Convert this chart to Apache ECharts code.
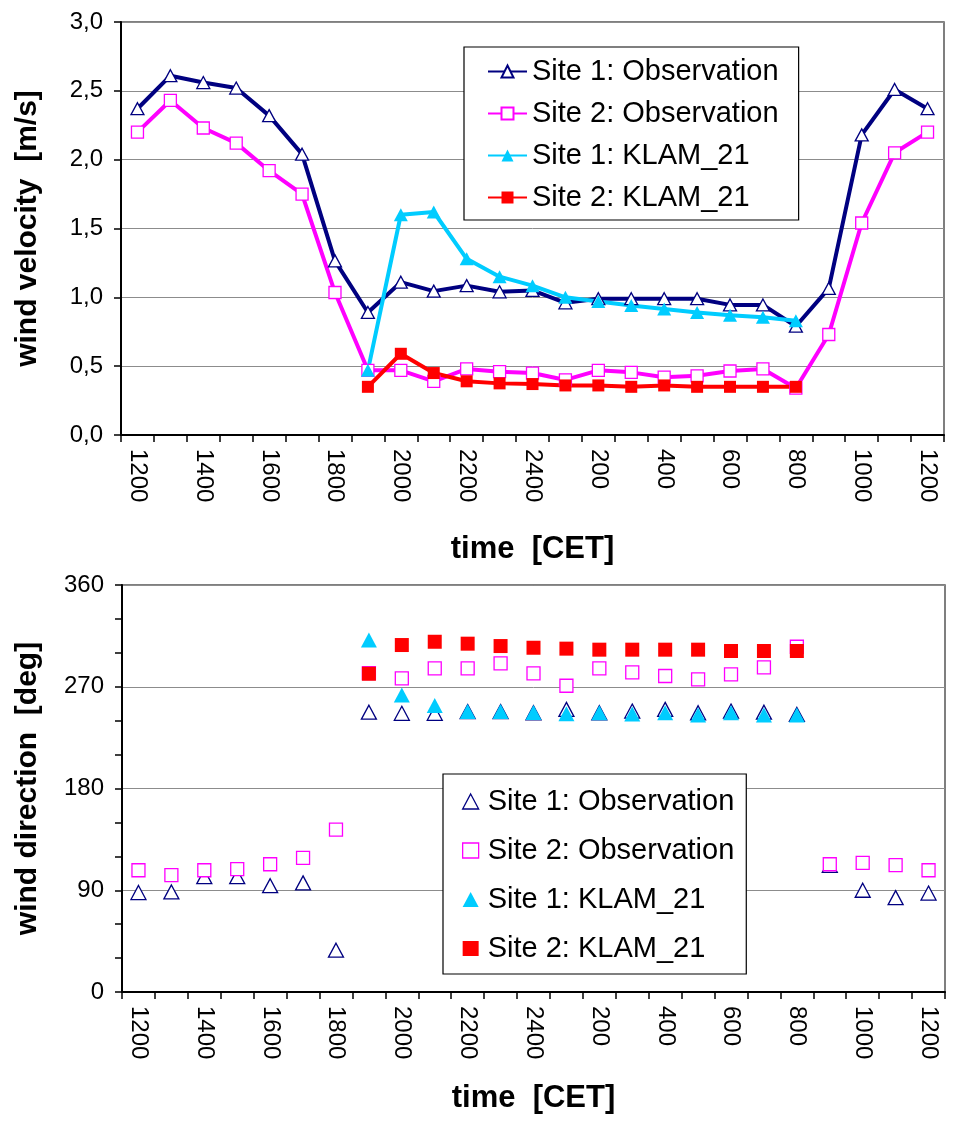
<!DOCTYPE html>
<html>
<head>
<meta charset="utf-8">
<script src="https://cdn.jsdelivr.net/npm/echarts@6/dist/echarts.min.js"></script>
<style>
html,body{margin:0;padding:0;background:#fff;}
#chart{width:955px;height:1122px;}
</style>
</head>
<body>
<div id="chart"></div>
<script>
// ---- data ----
const times = ['1200','1300','1400','1500','1600','1700','1800','1900','2000','2100','2200','2300','2400',
               '100','200','300','400','500','600','700','800','900','1000','1100','1200'];
const seriesNames = ['Site 1: Observation','Site 2: Observation','Site 1: KLAM_21','Site 2: KLAM_21'];

// wind velocity [m/s]
const velSite1Obs = [2.37,2.61,2.56,2.52,2.32,2.04,1.265,0.89,1.11,1.045,1.085,1.04,1.05,0.96,0.99,0.99,0.99,0.99,0.945,0.945,0.79,1.065,2.18,2.51,2.37];
const velSite2Obs = [2.20,2.43,2.23,2.12,1.92,1.75,1.035,0.47,0.47,0.39,0.48,0.46,0.45,0.40,0.47,0.455,0.42,0.43,0.465,0.48,0.34,0.73,1.54,2.05,2.20];
const velSite1Klam = [null,null,null,null,null,null,null,0.47,1.60,1.62,1.28,1.15,1.085,1.00,0.97,0.94,0.915,0.89,0.87,0.855,0.83,null,null,null,null];
const velSite2Klam = [null,null,null,null,null,null,null,0.35,0.59,0.45,0.39,0.375,0.37,0.36,0.36,0.35,0.36,0.35,0.35,0.35,0.35,null,null,null,null];

// wind direction [deg]
const dirSite1Obs = [88,88.5,102,102,94,96.5,37,247.5,246.5,246.5,248,248,247,250,247,248.5,250,247,248.5,247.5,245.5,112,90,83.5,87.5];
const dirSite2Obs = [107.7,103.3,107.7,108.6,113,118.6,143.7,282,277.4,286.2,286.2,290.7,281.8,270.9,286.2,282.7,279.5,276.5,280.9,287.1,305.4,113,114.2,112.2,107.7];
const dirSite1Klam = [null,null,null,null,null,null,null,311.3,262.6,253.5,248.2,248.2,247.3,246.1,247,246,247,245,247,245,245,null,null,null,null];
const dirSite2Klam = [null,null,null,null,null,null,null,281.5,306.9,309.8,308.1,306,304.5,303.7,302.8,302.8,302.8,302.8,301.6,301.6,301.6,null,null,null,null];

const velTicks = {min:0, max:3, interval:0.5};
const dirTicks = {min:0, max:360, interval:90};

// ---- styles ----
const FONT = '"Liberation Sans", Arial, sans-serif';
const NAVY = '#000080', MAG = '#ff00ff', CYAN = '#00ccff', RED = '#ff0000';

const chart = echarts.init(document.getElementById('chart'), null, {renderer:'canvas'});

function xAxisCfg(gridIndex, gap){
  return {
    type:'category', gridIndex, data: times, boundaryGap:true,
    axisLine:{show:true, onZero:false, lineStyle:{color:'#000', width:2}},
    axisTick:{show:true, interval:0, length:7, inside:false, lineStyle:{color:'#000', width:1.5}},
    axisLabel:{interval:1, rotate:-90, margin:14, color:'#000', fontFamily:FONT, fontSize:24},
    splitLine:{show:false},
    name:'time  [CET]', nameLocation:'middle', nameGap:gap,
    nameTextStyle:{fontFamily:FONT, fontSize:31, fontWeight:'bold', color:'#000'}
  };
}

const option = {
  animation:false,
  backgroundColor:'#fff',
  textStyle:{fontFamily:FONT},
  grid:[
    {left:121, top:22, width:823, height:413, show:true, borderColor:'#555', borderWidth:1.5, backgroundColor:'#fff'},
    {left:122, top:585, width:823, height:407, show:true, borderColor:'#555', borderWidth:1.5, backgroundColor:'#fff'}
  ],
  legend:[
    {
      orient:'vertical', left:464, top:47, padding:[10,20,8,23], itemGap:13,
      itemWidth:39, itemHeight:15,
      backgroundColor:'#fff', borderColor:'#000', borderWidth:1.2,
      textStyle:{fontFamily:FONT, fontSize:29, color:'#000'},
      selectedMode:false,
      data: seriesNames
    },
    {
      orient:'vertical', left:443, top:774, padding:[13,12,11,19], itemGap:20,
      itemWidth:16, itemHeight:15,
      backgroundColor:'#fff', borderColor:'#000', borderWidth:1.2,
      textStyle:{fontFamily:FONT, fontSize:29, color:'#000', padding:[0,0,0,4]},
      selectedMode:false,
      data:[
        {name:seriesNames[0], icon:'triangle', itemStyle:{color:'#fff', borderColor:NAVY, borderWidth:1.3}},
        {name:seriesNames[1], icon:'rect', itemStyle:{color:'#fff', borderColor:MAG, borderWidth:1.3}},
        {name:seriesNames[2], icon:'triangle', itemStyle:{color:CYAN, borderColor:CYAN, borderWidth:0}},
        {name:seriesNames[3], icon:'rect', itemStyle:{color:RED, borderColor:RED, borderWidth:0}}
      ]
    }
  ],
  xAxis:[ xAxisCfg(0, 99), xAxisCfg(1, 91) ],
  yAxis:[
    {
      type:'value', gridIndex:0, min:velTicks.min, max:velTicks.max, interval:velTicks.interval,
      axisLine:{show:true, lineStyle:{color:'#000', width:2}},
      axisTick:{show:true, length:7, lineStyle:{color:'#000', width:1.5}},
      axisLabel:{margin:18, color:'#000', fontFamily:FONT, fontSize:24,
        formatter:v=>v.toFixed(1).replace('.',',')},
      splitLine:{show:true, lineStyle:{color:'#8c8c8c', width:1}},
      name:'wind velocity  [m/s]', nameLocation:'middle', nameGap:78, nameRotate:90,
      nameTextStyle:{fontFamily:FONT, fontSize:30, fontWeight:'bold', color:'#000'}
    },
    {
      type:'value', gridIndex:1, min:dirTicks.min, max:dirTicks.max, interval:dirTicks.interval,
      axisLine:{show:true, lineStyle:{color:'#000', width:2}},
      axisTick:{show:true, length:7, lineStyle:{color:'#000', width:1.5}},
      minorTick:{show:true, splitNumber:3, length:7, lineStyle:{color:'#000', width:1.5}},
      axisLabel:{margin:18, color:'#000', fontFamily:FONT, fontSize:24},
      splitLine:{show:true, lineStyle:{color:'#8c8c8c', width:1}},
      name:'wind direction  [deg]', nameLocation:'middle', nameGap:79, nameRotate:90,
      nameTextStyle:{fontFamily:FONT, fontSize:30, fontWeight:'bold', color:'#000'}
    }
  ],
  series:[
    {
      name:seriesNames[0], type:'line', xAxisIndex:0, yAxisIndex:0, data:velSite1Obs,
      symbol:'triangle', symbolSize:[13,12], showAllSymbol:true,
      lineStyle:{color:NAVY, width:4}, itemStyle:{color:'#fff', borderColor:NAVY, borderWidth:1.3}
    },
    {
      name:seriesNames[1], type:'line', xAxisIndex:0, yAxisIndex:0, data:velSite2Obs,
      symbol:'rect', symbolSize:12, showAllSymbol:true,
      lineStyle:{color:MAG, width:4}, itemStyle:{color:'#fff', borderColor:MAG, borderWidth:1.3}
    },
    {
      name:seriesNames[2], type:'line', xAxisIndex:0, yAxisIndex:0, data:velSite1Klam,
      symbol:'triangle', symbolSize:[14,13], showAllSymbol:true,
      lineStyle:{color:CYAN, width:4}, itemStyle:{color:CYAN, borderColor:CYAN, borderWidth:0}
    },
    {
      name:seriesNames[3], type:'line', xAxisIndex:0, yAxisIndex:0, data:velSite2Klam,
      symbol:'rect', symbolSize:12, showAllSymbol:true,
      lineStyle:{color:RED, width:4}, itemStyle:{color:RED, borderColor:RED, borderWidth:0}
    },
    {
      name:seriesNames[0], type:'scatter', xAxisIndex:1, yAxisIndex:1, data:dirSite1Obs,
      symbol:'triangle', symbolSize:[15,14],
      itemStyle:{color:'#fff', borderColor:NAVY, borderWidth:1.3, opacity:1}
    },
    {
      name:seriesNames[1], type:'scatter', xAxisIndex:1, yAxisIndex:1, data:dirSite2Obs,
      symbol:'rect', symbolSize:13,
      itemStyle:{color:'#fff', borderColor:MAG, borderWidth:1.3, opacity:1}
    },
    {
      name:seriesNames[2], type:'scatter', xAxisIndex:1, yAxisIndex:1, data:dirSite1Klam,
      symbol:'triangle', symbolSize:[16,15],
      itemStyle:{color:CYAN, opacity:1}
    },
    {
      name:seriesNames[3], type:'scatter', xAxisIndex:1, yAxisIndex:1, data:dirSite2Klam,
      symbol:'rect', symbolSize:14,
      itemStyle:{color:RED, opacity:1}
    }
  ]
};
chart.setOption(option);
</script>
</body>
</html>
